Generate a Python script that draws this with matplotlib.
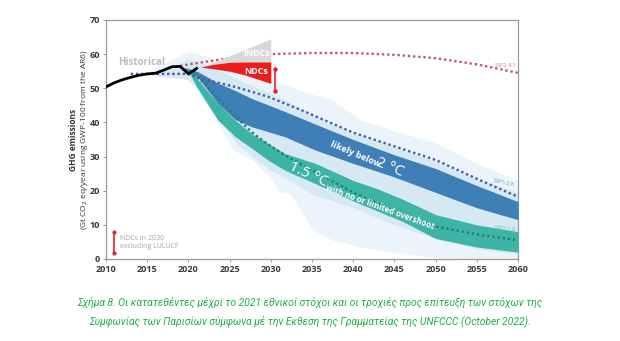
import matplotlib

matplotlib.use("Agg")
import matplotlib.pyplot as plt

plt.rcParams["font.family"] = ["Open Sans", "DejaVu Sans"]

# Historical emissions (Gt CO2 eq/year)
hist_years = [2010, 2011, 2012, 2013, 2014, 2015, 2016, 2017, 2018, 2019, 2020, 2021]
hist_vals = [50.4, 51.6, 52.5, 53.2, 53.8, 54.2, 54.4, 55.3, 56.3, 56.4, 54.2, 55.8]

# Outer envelope (lightest shade)
env1_years = [2015, 2018, 2020, 2022, 2024, 2025.4, 2027.8, 2029.9, 2031.1, 2032.3,
              2034, 2035.1, 2037.5, 2041, 2043.3, 2045, 2050, 2055, 2060]
env1_upper = [54.5, 58.5, 60.8, 59.5, 57.8, 56.8, 54.5, 52.7, 51.5, 50.5,
              49.0, 48.2, 46.5, 40.5, 39.0, 37.5, 34.0, 28.0, 23.0]
env1_lower = [54.0, 53.5, 52.5, 46.0, 38.0, 32.0, 29.0, 24.0, 19.5, 19.3,
              13.0, 8.5, 5.5, 3.5, 2.6, 2.0, 0.5, 0.0, 0.0]

# Inner envelope (light shade)
env2_years = [2016, 2019, 2020, 2022, 2024, 2026, 2028, 2030, 2033, 2035, 2040, 2045,
              2050, 2055, 2060]
env2_upper = [54.5, 57.5, 58.5, 57.0, 55.0, 52.5, 50.5, 48.5, 45.0, 42.5, 37.0, 33.0,
              28.5, 23.5, 19.5]
env2_lower = [53.5, 53.0, 52.5, 48.0, 40.0, 33.5, 29.5, 26.0, 22.0, 19.0, 15.0, 10.0,
              6.0, 3.0, 1.5]

# likely below 2 C band
b2_years = [2019.5, 2020, 2021.2, 2023.6, 2025.7, 2027.7, 2031.7, 2035.4, 2040, 2045,
            2050, 2055, 2060]
b2_upper = [56.0, 55.8, 54.8, 51.5, 49.3, 47.0, 43.2, 39.5, 35.0, 30.5, 26.5, 21.5, 16.8]
b2_lower = [55.5, 55.0, 53.0, 45.5, 40.8, 38.7, 35.8, 31.9, 28.0, 24.0, 19.5, 15.0, 11.5]

# 1.5 C with no or limited overshoot band
b15_years = [2020, 2021, 2023.6, 2025.7, 2027.7, 2029.7, 2031.7, 2035.4, 2040, 2043,
             2046, 2050, 2055, 2060]
b15_upper = [55.8, 53.0, 45.5, 40.6, 36.7, 33.8, 30.9, 28.0, 23.0, 20.5, 17.5, 13.0,
             10.0, 8.0]
b15_lower = [55.0, 50.4, 40.6, 35.8, 32.4, 28.9, 26.0, 22.1, 17.0, 14.0, 11.0, 6.0,
             3.5, 2.0]

# SSP pathways (dotted)
ssp245_years = [2019, 2020, 2025, 2030, 2035, 2040, 2045, 2050, 2055, 2060]
ssp245_vals = [56.5, 57.0, 58.8, 60.0, 60.3, 60.3, 59.8, 58.8, 57.0, 54.5]
ssp126_years = [2013, 2016, 2018, 2020, 2022, 2025.7, 2029.7, 2033.7, 2040, 2045, 2050,
                2055, 2060]
ssp126_vals = [54.2, 54.2, 54.2, 54.2, 52.5, 50.4, 47.5, 43.6, 37.0, 33.0, 29.0, 23.5,
               18.2]
ssp119_years = [2020, 2022, 2024, 2026, 2028, 2030, 2032, 2035, 2040, 2045, 2050, 2055,
                2060]
ssp119_vals = [55.0, 51.4, 46.0, 41.0, 36.5, 33.0, 30.0, 26.0, 19.5, 14.0, 9.5, 7.2, 5.5]

# NDC / INDC wedges
ndc_years = [2021.5, 2023, 2025, 2027, 2030]
indc_upper = [56.2, 57.6, 59.5, 61.5, 64.5]
ndc_upper = [56.2, 57.0, 57.6, 57.7, 57.7]
ndc_lower = [56.2, 55.7, 55.0, 53.8, 51.4]

# NDCs in 2030 excluding LULUCF range
ndc_range_x = 2030.5
ndc_range = [49.1, 55.7]

xticks = list(range(2010, 2061, 5))
yticks = list(range(0, 71, 10))

caption = ("Σχήμα 8. Οι κατατεθέντες μέχρι το 2021 εθνικοί στόχοι και οι τροχιές προς επίτευξη των στόχων της\n"
           "Συμφωνίας των Παρισίων σύμφωνα μέ την Εκθεση της Γραμματείας της UNFCCC (October 2022).")

fig = plt.figure(figsize=(6.2, 3.41), dpi=100)
ax = fig.add_axes([0.171, 0.2405, 0.6645, 0.701])

ax.fill_between(env1_years, env1_lower, env1_upper, color="#eaf4fa", lw=0, zorder=1)
ax.fill_between(env2_years, env2_lower, env2_upper, color="#d6e9f3", lw=0, zorder=2)
ax.fill_between(b2_years, b2_lower, b2_upper, color="#3f7fb7", lw=0, zorder=3)
ax.fill_between(b15_years, b15_lower, b15_upper, color="#3db4a6", lw=0, zorder=3)

dots = (0, (1, 1.2))
ax.plot(ssp245_years, ssp245_vals, color="#c8517e", lw=1.7, ls=dots, zorder=4)
ax.plot(ssp126_years, ssp126_vals, color="#4a5aa6", lw=1.7, ls=dots, zorder=4)
ax.plot(ssp119_years, ssp119_vals, color="#247f74", lw=1.7, ls=dots, zorder=4)

ax.fill_between(ndc_years, ndc_upper, indc_upper, color="#d9d9d9", lw=0, zorder=5)
ax.fill_between(ndc_years, ndc_lower, ndc_upper, color="#ee1c1c", lw=0, zorder=5)

ax.plot(hist_years, hist_vals, color="black", lw=2.0, zorder=6)

# NDC range bar
ax.plot([ndc_range_x, ndc_range_x], ndc_range, color="#e3242b", lw=1.2, zorder=6,
        marker="o", markersize=2.2)
ax.plot([2011, 2011], [1.8, 7.9], color="#e3242b", lw=1.2, marker="o", markersize=2, zorder=6)
ax.text(2011.7, 4.9, "NDCs in 2030\nexcluding LULUCF", fontsize=5, color="#a6a6a6",
        va="center", ha="left", linespacing=1.1)

# labels
ax.text(2014.3, 57.6, "Historical", fontsize=7, color="#bdbdbd", fontweight="bold",
        ha="center", va="center")
ax.text(2028.3, 60.3, "INDCs", fontsize=6.5, color="white", fontweight="bold",
        ha="center", va="center", zorder=7)
ax.text(2028.2, 55.0, "NDCs", fontsize=6.5, color="white", fontweight="bold",
        ha="center", va="center", zorder=7)
ax.text(2059.8, 56.8, "SSP2-4.5", fontsize=4, color="#d27aa0", ha="right", va="center")
ax.text(2059.6, 22.4, "SSP1-2.6", fontsize=4, color="#6a9cc8", ha="right", va="center",
        rotation=-12)
ax.text(2059.8, 9.0, "SSP1-1.9", fontsize=4, color="#6abfb6", ha="right", va="center",
        rotation=-6)

ax.text(2037.3, 33.8, "likely below", fontsize=6.5, color="white", fontweight="bold",
        rotation=-23, rotation_mode="anchor", ha="left", va="center", zorder=7)
ax.text(2042.8, 28.6, "2 °C", fontsize=11, color="white", rotation=-23,
        rotation_mode="anchor", ha="left", va="center", zorder=7)
ax.text(2032.3, 27.2, "1.5 °C", fontsize=11, color="white", rotation=-25,
        rotation_mode="anchor", ha="left", va="center", zorder=7)
ax.text(2036.7, 21.0, "with no or limited overshoot", fontsize=5.8, color="white",
        fontweight="bold", rotation=-20, rotation_mode="anchor", ha="left", va="center",
        zorder=7)

ax.set_xlim(2010, 2060)
ax.set_ylim(0, 70)
ax.set_xticks(xticks)
ax.set_yticks(yticks)
ax.tick_params(labelsize=6.5, colors="#3a3a3a", length=2.5, width=0.6, pad=2,
               color="#888888")
for lab in ax.get_xticklabels() + ax.get_yticklabels():
    lab.set_fontweight("bold")
for side in ["left", "right", "top", "bottom"]:
    ax.spines[side].set_color("#9a9a9a")
    ax.spines[side].set_linewidth(0.9)

fig.text(0.118, 0.591, "GHG emissions", rotation=90, fontsize=6, fontweight="bold",
         color="#333333", ha="center", va="center")
fig.text(0.136, 0.591, "(Gt CO$_2$ eq/year using GWP-100 from the AR6)", rotation=90,
         fontsize=6, color="#333333", ha="center", va="center")

fig.text(0.5, 0.085, caption, fontsize=7.4, color="#1fae4b", style="italic",
         family=["Roboto", "Open Sans"],
         ha="center", va="center", linespacing=1.75)

fig.savefig("out.png", dpi=100)
